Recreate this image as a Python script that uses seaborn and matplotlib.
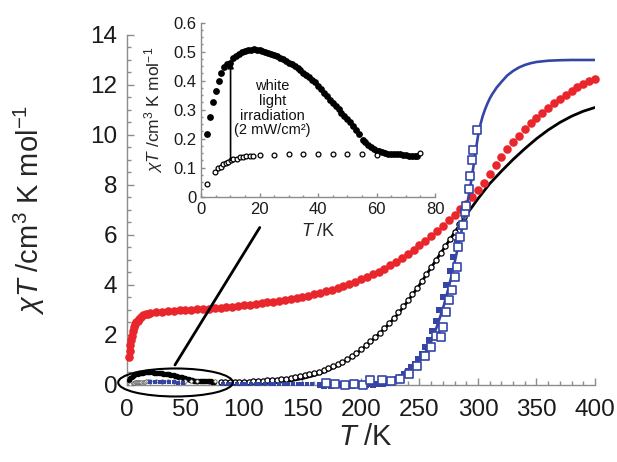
import matplotlib
matplotlib.use("Agg")
import matplotlib.pyplot as plt
import seaborn as sns
from matplotlib.patches import Ellipse
from matplotlib.ticker import MultipleLocator

# ---------------- main panel data ----------------
red_T = [2, 2.5, 3, 3.5, 4, 5, 6, 7, 8, 9, 10, 12, 14, 16, 18, 20,
         25, 30, 35, 40, 45, 50, 55, 60, 65, 70, 75, 80, 85, 90, 95, 100,
         105, 110, 115, 120, 125, 130, 135, 140, 145, 150, 155, 160, 165, 170,
         175, 180, 185, 190, 195, 200, 205, 210, 215, 220, 225, 230, 235, 240,
         245, 250, 255, 260, 265, 270, 275, 280, 285, 290, 295, 300, 305, 310,
         315, 320, 325, 330, 335, 340, 345, 350, 355, 360, 365, 370, 375, 380,
         385, 390, 395, 400]
red_chiT = [1.1, 1.35, 1.6, 1.8, 1.95, 2.15, 2.3, 2.42, 2.5, 2.57, 2.63, 2.72, 2.78, 2.82, 2.85, 2.87,
            2.90, 2.93, 2.95, 2.97, 2.98, 3.00, 3.01, 3.02, 3.03, 3.05, 3.07, 3.09, 3.11, 3.13, 3.16, 3.18,
            3.21, 3.24, 3.27, 3.30, 3.33, 3.37, 3.40, 3.44, 3.48, 3.52, 3.57, 3.62, 3.68, 3.74,
            3.81, 3.88, 3.96, 4.04, 4.13, 4.22, 4.32, 4.42, 4.53, 4.65, 4.78, 4.92, 5.07, 5.23,
            5.40, 5.58, 5.77, 5.96, 6.16, 6.37, 6.58, 6.80, 7.02, 7.25, 7.50, 7.78, 8.09, 8.42,
            8.78, 9.12, 9.42, 9.70, 9.97, 10.22, 10.46, 10.68, 10.88, 11.08, 11.26, 11.42, 11.60, 11.76,
            11.90, 12.03, 12.14, 12.24]

black_T = [80, 84, 88, 92, 96, 100, 104, 108, 112, 116, 120, 124, 128, 132, 136, 140,
           144, 148, 152, 156, 160, 164, 168, 172, 176, 180, 184, 188, 192, 196, 200,
           204, 208, 212, 216, 220, 224, 228, 232, 236, 240, 244, 248, 252, 256, 260,
           264, 268, 272, 276, 280, 284, 288]
black_chiT = [0.10, 0.10, 0.11, 0.11, 0.12, 0.12, 0.13, 0.14, 0.15, 0.16, 0.18, 0.19, 0.21, 0.23, 0.25, 0.28,
              0.31, 0.34, 0.38, 0.42, 0.47, 0.53, 0.59, 0.66, 0.74, 0.83, 0.93, 1.04, 1.16, 1.29, 1.43,
              1.58, 1.74, 1.91, 2.09, 2.28, 2.48, 2.69, 2.91, 3.14, 3.38, 3.63, 3.89, 4.15, 4.42, 4.70,
              4.98, 5.26, 5.55, 5.84, 6.13, 6.42, 6.71]

black_fit_T = [80, 90, 100, 110, 120, 130, 140, 150, 160, 170, 180, 190, 200, 210, 220, 230,
               240, 250, 260, 270, 280, 290, 300, 310, 320, 330, 340, 350, 360, 370, 380, 390, 400]
black_fit_chiT = [0.0, 0.01, 0.02, 0.04, 0.07, 0.11, 0.17, 0.26, 0.38, 0.55, 0.77, 1.05, 1.40, 1.80, 2.25, 2.75,
                  3.35, 4.00, 4.70, 5.40, 6.10, 6.80, 7.45, 8.05, 8.55, 9.02, 9.45, 9.85, 10.20, 10.50, 10.75,
                  10.95, 11.10]

blue_fit_T = [165, 180, 200, 210, 220, 230, 235, 240, 245, 250, 255, 260, 265, 270, 275, 280, 285,
              288, 290, 292, 294, 296, 298, 300, 302, 304, 306, 308, 310, 312, 316, 320, 325, 330,
              335, 340, 345, 350, 360, 370, 380, 390, 400]
blue_fit_chiT = [0.0, 0.0, 0.01, 0.03, 0.09, 0.22, 0.33, 0.48, 0.68, 0.95, 1.30, 1.75, 2.35, 3.05, 3.90, 4.90, 5.95,
                 6.60, 7.05, 7.55, 8.10, 8.70, 9.35, 9.95, 10.40, 10.75, 11.02, 11.25, 11.45, 11.62, 11.90, 12.12,
                 12.38, 12.56, 12.70, 12.80, 12.87, 12.92, 12.97, 12.99, 13.0, 13.0, 13.0]

blue_open_T = [170, 178, 186, 194, 202, 208, 218, 226, 233, 241, 248, 255, 260, 264, 268, 270, 273, 275,
               278, 280, 282, 283, 285, 287, 289, 290, 292, 293, 295, 296, 299]
blue_open_chiT = [0.08, 0.02, -0.02, 0.05, 0.0, 0.2, 0.2, 0.15, 0.22, 0.45, 0.75, 1.15, 1.5, 1.95, 1.9, 2.3, 2.9, 3.4,
                  3.8, 4.3, 4.7, 5.5, 5.9, 6.4, 6.9, 7.15, 7.85, 8.35, 9.0, 9.4, 10.2]

blue_fill_T = [165, 168, 171, 174, 177, 180, 183, 186, 189, 192, 195, 198, 201, 204, 207, 210, 213, 216,
               219, 222, 225, 228, 231, 234, 237, 240, 243, 246, 249, 252, 255, 258, 261, 264, 267, 270,
               273, 276, 279, 282, 285]
blue_fill_chiT = [0.0, -0.05, 0.02, -0.03, 0.0, 0.03, -0.02, 0.0, 0.02, -0.03, 0.0, 0.04, 0.0, -0.02, 0.03, 0.0,
                  0.02, 0.05, 0.02, 0.06, 0.12, 0.18, 0.25, 0.32, 0.42, 0.55, 0.70, 0.85, 1.05, 1.25, 1.50,
                  1.80, 2.15, 2.55, 3.00, 3.50, 4.00, 4.55, 5.10, 5.70, 6.30]

blue_low_T = [20, 24, 28, 32, 36, 40, 44, 48, 82, 86, 90, 94, 98, 102, 106, 110, 114, 118, 122, 126,
              130, 134, 138, 142, 146, 150, 154, 158]
blue_low_chiT = [0.1, 0.1, 0.1, 0.1, 0.1, 0.1, 0.09, 0.09, 0.05, 0.05, 0.05, 0.05, 0.05, 0.05, 0.05, 0.05,
                 0.05, 0.05, 0.05, 0.05, 0.05, 0.05, 0.05, 0.05, 0.05, 0.05, 0.05, 0.05]

# ---------------- inset data (light-induced state) ----------------
irr_T = [2, 3, 4, 5, 6, 7, 8, 9, 10, 11, 12, 13, 14, 15, 16, 17, 18, 19, 20, 21, 22, 23, 24, 25,
         26, 27, 28, 29, 30, 31, 32, 33, 34, 35, 36, 37, 38, 39, 40, 41, 42, 43, 44, 45, 46, 47,
         48, 49, 50, 51, 52, 53, 54, 55.5, 56, 57, 58, 59, 60, 61, 62, 63, 64, 65, 66, 67, 68, 69,
         70, 71, 72, 73, 74]
irr_chiT = [0.216, 0.274, 0.328, 0.366, 0.399, 0.425, 0.446, 0.458, 0.462, 0.478, 0.485, 0.492, 0.498,
            0.502, 0.505, 0.507, 0.508, 0.507, 0.506, 0.503, 0.500, 0.497, 0.493, 0.489, 0.485, 0.480,
            0.474, 0.468, 0.462, 0.456, 0.450, 0.443, 0.436, 0.428, 0.420, 0.412, 0.404, 0.394, 0.383,
            0.371, 0.359, 0.347, 0.335, 0.323, 0.312, 0.301, 0.290, 0.279, 0.268, 0.256, 0.243, 0.230,
            0.215, 0.195, 0.188, 0.178, 0.170, 0.164, 0.159, 0.156, 0.153, 0.151, 0.149, 0.148, 0.147,
            0.146, 0.146, 0.145, 0.144, 0.142, 0.140, 0.139, 0.139]

dark_T = [2.2, 4.8, 5.9, 6.7, 7.6, 8.5, 9.3, 10.1, 11, 12.2, 13.3, 14.4, 15.5, 16.6, 17.8, 20,
          25, 30, 35, 40, 45, 50, 55, 60, 75]
dark_chiT = [0.044, 0.086, 0.098, 0.103, 0.113, 0.118, 0.121, 0.125, 0.129, 0.131, 0.136, 0.138, 0.139,
             0.141, 0.142, 0.144, 0.144, 0.146, 0.146, 0.146, 0.146, 0.146, 0.146, 0.144, 0.150]

main_xticks = [0, 50, 100, 150, 200, 250, 300, 350, 400]
main_yticks = [0, 2, 4, 6, 8, 10, 12, 14]
inset_xticks = [0, 20, 40, 60, 80]
inset_yticks = [0, 0.1, 0.2, 0.3, 0.4, 0.5, 0.6]
inset_yticklabels = ["0", "0.1", "0.2", "0.3", "0.4", "0.5", "0.6"]

RED = "#e8262b"
BLUE = "#3445a6"
SPINE = "#8c8c8c"

sns.set_theme(style="ticks")
plt.rcParams["font.family"] = ["Liberation Sans", "DejaVu Sans"]
plt.rcParams["mathtext.fontset"] = "custom"
plt.rcParams["mathtext.rm"] = "Liberation Sans"
plt.rcParams["mathtext.it"] = "Liberation Sans:italic"
plt.rcParams["mathtext.bf"] = "Liberation Sans:bold"

fig = plt.figure(figsize=(6.17, 4.62), dpi=100)
ax = fig.add_axes([0.2058, 0.1667, 0.7585, 0.7576])


def style_axes(a, major, minor, pad_x, pad_y, fs):
    for side in ("top", "right"):
        a.spines[side].set_visible(False)
    for side in ("left", "bottom"):
        a.spines[side].set_color(SPINE)
        a.spines[side].set_linewidth(1.0)
    a.tick_params(which="both", direction="in", color=SPINE, width=1.0, labelsize=fs,
                  labelcolor="#1a1a1a")
    a.tick_params(which="major", length=major)
    a.tick_params(which="minor", length=minor)
    a.tick_params(axis="x", pad=pad_x)
    a.tick_params(axis="y", pad=pad_y)


# ---- main panel ----
sns.lineplot(x=black_fit_T, y=black_fit_chiT, ax=ax, color="black", lw=2.0,
             estimator=None, sort=False, zorder=2)
sns.scatterplot(x=black_T, y=black_chiT, ax=ax, marker="o", s=14, facecolor="white",
                edgecolor="black", linewidth=0.9, zorder=3)
sns.scatterplot(x=irr_T, y=irr_chiT, ax=ax, marker="o", s=15, color="black",
                linewidth=0, zorder=3)
sns.scatterplot(x=dark_T, y=dark_chiT, ax=ax, marker="o", s=6, facecolor="white",
                edgecolor="#555555", linewidth=0.5, zorder=3)
sns.scatterplot(x=red_T, y=red_chiT, ax=ax, marker="o", s=38, color=RED,
                linewidth=0, zorder=4, clip_on=False)
sns.lineplot(x=blue_fit_T, y=blue_fit_chiT, ax=ax, color=BLUE, lw=1.9,
             estimator=None, sort=False, zorder=5)
sns.scatterplot(x=blue_low_T, y=blue_low_chiT, ax=ax, marker="s", s=6, color=BLUE,
                linewidth=0, zorder=5, clip_on=False)
sns.scatterplot(x=blue_fill_T, y=blue_fill_chiT, ax=ax, marker="s", s=24, color=BLUE,
                linewidth=0, zorder=5, clip_on=False)
sns.scatterplot(x=blue_open_T, y=blue_open_chiT, ax=ax, marker="s", s=28, facecolor="white",
                edgecolor=BLUE, linewidth=1.2, zorder=6, clip_on=False)

ax.set_xlim(0, 400)
ax.set_ylim(0, 14)
ax.set_xticks(main_xticks)
ax.set_yticks(main_yticks)
ax.xaxis.set_minor_locator(MultipleLocator(10))
ax.yaxis.set_minor_locator(MultipleLocator(0.5))
style_axes(ax, major=5, minor=3, pad_x=10, pad_y=7, fs=17.5)
ax.set_xlabel(r"$T$ /K", fontsize=21)
ax.set_ylabel(r"$\chi T$ /cm$^3$ K mol$^{-1}$", fontsize=21)
ax.xaxis.set_label_coords(0.51, -0.11)
ax.yaxis.set_label_coords(-0.171, 0.5)

# ellipse around the low-temperature region and the pointer to the inset
ax.add_patch(Ellipse((41.5, 0.1), 98, 1.12, fill=False, edgecolor="black", lw=1.5,
                     clip_on=False, zorder=7))
ax.plot([41, 113.5], [0.8, 6.3], color="black", lw=2.0, solid_capstyle="round", zorder=7)

# ---- inset ----
ins = fig.add_axes([0.3258, 0.5742, 0.3793, 0.3766])
ins.set_facecolor("white")
sns.scatterplot(x=irr_T, y=irr_chiT, ax=ins, marker="o", s=24, color="black",
                linewidth=0, zorder=3, clip_on=False)
sns.scatterplot(x=dark_T, y=dark_chiT, ax=ins, marker="o", s=12, facecolor="white",
                edgecolor="black", linewidth=0.9, zorder=4, clip_on=False)
ins.set_xlim(0, 80)
ins.set_ylim(0, 0.6)
ins.set_xticks(inset_xticks)
ins.set_yticks(inset_yticks)
ins.set_yticklabels(inset_yticklabels)
ins.xaxis.set_minor_locator(MultipleLocator(5))
ins.yaxis.set_minor_locator(MultipleLocator(0.025))
style_axes(ins, major=3, minor=1.5, pad_x=4, pad_y=3.5, fs=12)
ins.set_xlabel(r"$T$ /K", fontsize=13)
ins.set_ylabel(r"$\chi T$ /cm$^3$ K mol$^{-1}$", fontsize=12.5)
ins.xaxis.set_label_coords(0.5, -0.15)
ins.yaxis.set_label_coords(-0.155, 0.5)

ins.annotate("", xy=(10.1, 0.465), xytext=(10.1, 0.125),
             arrowprops=dict(arrowstyle="-|>", color="black", lw=1.2,
                             mutation_scale=9, shrinkA=0, shrinkB=0), zorder=5)
ins.text(24.5, 0.305, "white\nlight\nirradiation\n(2 mW/cm²)", ha="center", va="center",
         fontsize=10.5, linespacing=1.05, color="#111111")

fig.savefig("out.png", dpi=100)
